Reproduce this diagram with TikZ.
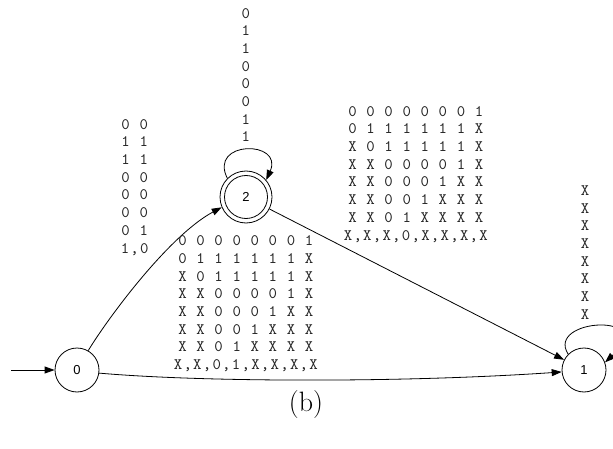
\documentclass[tikz,border=0pt]{standalone}
\usepackage{fontspec}
\newfontfamily\lblfont{lmmono10-regular}[Extension=.otf,LetterSpace=8]
\newfontfamily\statefont{Liberation Sans}
\usetikzlibrary{arrows.meta}
\definecolor{txtgray}{gray}{0.15}
\tikzset{
  state/.style={circle,draw,line width=0.8pt,minimum size=44pt,inner sep=0pt,font={\statefont\fontsize{13}{15}\selectfont}},
  outer/.style={circle,draw,line width=0.8pt,minimum size=52pt,inner sep=0pt,font={\statefont\fontsize{13}{15}\selectfont}},
  arr/.style={line width=0.8pt,-{Triangle[length=10pt,width=7pt]}},
  lbl/.style={align=center,inner sep=0pt,text=txtgray,font={\lblfont\fontsize{16}{17.7}\selectfont}},
}
\begin{document}
\begin{tikzpicture}[x=1pt,y=-1pt]
\useasboundingbox (0,0) rectangle (613,449);
\node[state] (n0) at (77,370) {0};
\node[outer] (n2) at (246,197) {2};
\draw[line width=0.8pt] (n2.center) circle (21.5);
\node[state] (n1) at (584,370) {1};
\coordinate (s) at (11,370);
\draw[arr] (s) -- (n0);
\draw[arr] (n0.60) .. controls (110,315) and (170,235) .. (n2.203);
\draw[arr] (n2) -- (n1);
\draw[arr] (n0.-8) .. controls (200,382) and (400,383) .. (n1.185);
\draw[arr] (n2.135) .. controls (208,140) and (284,140) .. (n2.40);
\draw[arr] (n1.135) .. controls (545,318) and (660,312) .. (n1.20);
\node[lbl] (lt) at (245.7,75) {0\\1\\1\\0\\0\\0\\1\\1};
\node[lbl] (ll) at (134.7,187.2) {0 0\\1 1\\1 1\\0 0\\0 0\\0 0\\0 1\\1,0};
\node[lbl] (lr) at (415.8,174.2) {0 0 0 0 0 0 0 1\\0 1 1 1 1 1 1 X\\X 0 1 1 1 1 1 X\\X X 0 0 0 0 1 X\\X X 0 0 0 1 X X\\X X 0 0 1 X X X\\X X 0 1 X X X X\\X,X,X,0,X,X,X,X};
\node[lbl] (lb) at (245.8,303.7) {0 0 0 0 0 0 0 1\\0 1 1 1 1 1 1 X\\X 0 1 1 1 1 1 X\\X X 0 0 0 0 1 X\\X X 0 0 0 1 X X\\X X 0 0 1 X X X\\X X 0 1 X X X X\\X,X,0,1,X,X,X,X};
\node[lbl] (l1) at (585,252.5) {X\\X\\X\\X\\X\\X\\X\\X};
\node[font=\fontsize{28}{32}\selectfont] (cap) at (306,405) {(b)};
\end{tikzpicture}
\end{document}
